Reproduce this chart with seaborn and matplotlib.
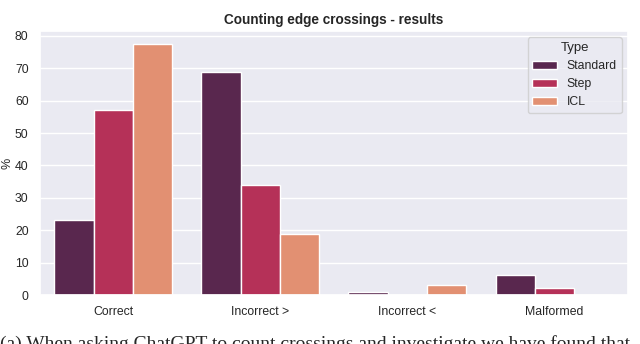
import matplotlib
matplotlib.use('Agg')
import matplotlib.pyplot as plt
import seaborn as sns
import pandas as pd

categories = ["Correct", "Incorrect >", "Incorrect <", "Malformed"]
types = ["Standard", "Step", "ICL"]
standard = [23.3, 68.9, 1.0, 6.2]
step = [57.2, 34.1, 0.0, 2.2]
icl = [77.6, 19.0, 3.1, 0.0]

rows = []
for t, vals in zip(types, [standard, step, icl]):
    for c, v in zip(categories, vals):
        rows.append({"Result": c, "Type": t, "%": v})
df = pd.DataFrame(rows)

sns.set_theme(style="darkgrid")
plt.rcParams['font.family'] = ['Liberation Sans', 'DejaVu Sans']

fig = plt.figure(figsize=(6.4, 3.44), dpi=100)
ax = fig.add_axes([0.062, 0.142, 0.919, 0.768])
sns.barplot(data=df, x="Result", y="%", hue="Type", palette="rocket", ax=ax)

ax.set_title("Counting edge crossings - results", fontsize=9.8, fontweight="bold", pad=5)
ax.set_xlabel("")
ax.set_ylabel("%", fontsize=9, labelpad=1)
ax.tick_params(labelsize=8.8, pad=2)
ax.set_yticks(range(0, 81, 10))
ax.legend(title="Type", loc="upper right", fontsize=8.8, title_fontsize=9.5)

# partially visible caption text below the chart
fig.text(0.0, 0.025, "(a) When asking ChatGPT to count crossings and investigate we have found that",
         family="Liberation Serif", fontsize=14, va="top", ha="left")

fig.savefig("out.png", dpi=100)
